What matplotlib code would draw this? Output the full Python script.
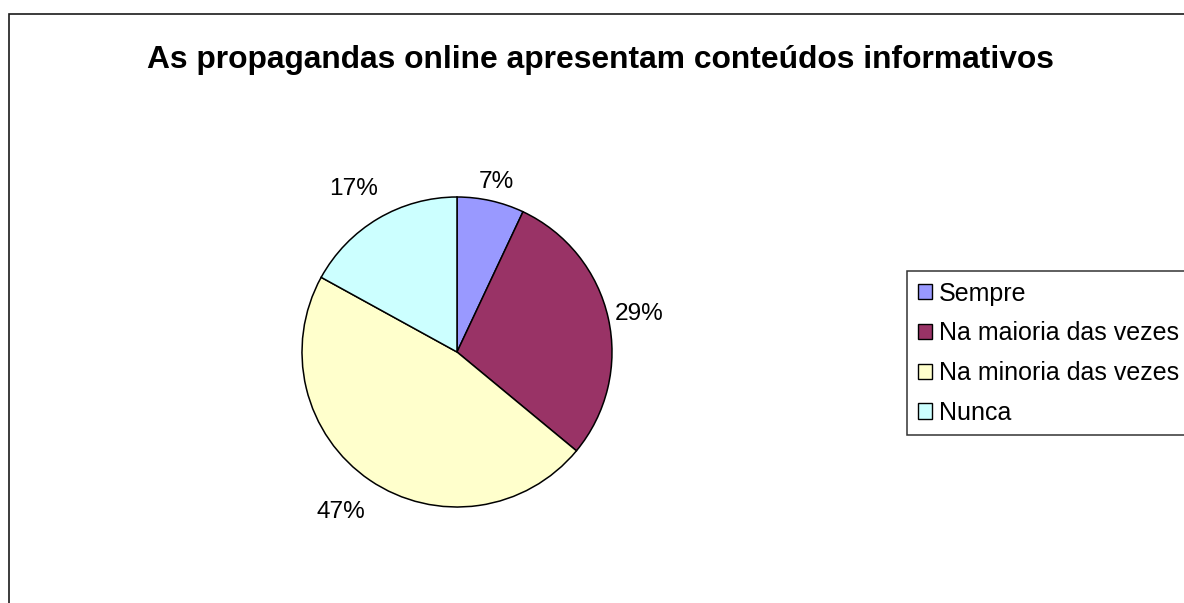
import numpy as np
import matplotlib
matplotlib.use("Agg")
import matplotlib.pyplot as plt
from matplotlib.patches import Rectangle, Patch

plt.rcParams["font.family"] = ["Liberation Sans", "DejaVu Sans"]

# Survey answers
title = "As propagandas online apresentam conteúdos informativos"
categories = ["Sempre", "Na maioria das vezes", "Na minoria das vezes", "Nunca"]
shares = [7, 29, 47, 17]
colors = ["#9999FF", "#993366", "#FFFFCC", "#CCFFFF"]

W, H, DPI = 1184, 603, 100
fig = plt.figure(figsize=(W / DPI, H / DPI), dpi=DPI)
fig.patch.set_facecolor("white")

# Chart-area frame (runs off the right and bottom edges)
fig.patches.append(Rectangle((9 / W, -0.05), 1.1, (H - 14) / H + 0.05,
                             transform=fig.transFigure, fill=False,
                             edgecolor="#1a1a1a", linewidth=1.2))

fig.text(600 / W, 1 - 60 / H, title, ha="center", va="center",
         fontsize=22.9, fontweight="bold")

# Pie plot area
cx, cy, r = 457, 352, 155
ax = fig.add_axes([(cx - r) / W, (H - cy - r) / H, 2 * r / W, 2 * r / H])
wedges, _, autotexts = ax.pie(
    shares, colors=colors, startangle=90, counterclock=False, radius=1,
    autopct="%1.0f%%", pctdistance=1.1,
    wedgeprops=dict(edgecolor="black", linewidth=1.1),
    textprops=dict(fontsize=17.6))
ax.set_xlim(-1, 1)
ax.set_ylim(-1, 1)
ax.set_aspect("equal")
ax.axis("off")

# Push each percentage label out so its box sits just off the rim
label_gap = [1.05, 1.05, 1.18, 1.15]
fig.canvas.draw()
renderer = fig.canvas.get_renderer()
px_per_unit = r
for w, t, g in zip(wedges, autotexts, label_gap):
    theta = np.deg2rad((w.theta1 + w.theta2) / 2)
    bb = t.get_window_extent(renderer)
    hw = bb.width / 2 / px_per_unit
    hh = bb.height / 2 / px_per_unit
    x = g * np.cos(theta) + hw * np.cos(theta)
    y = g * np.sin(theta) + hh * np.sin(theta)
    t.set_position((x, y))
    t.set_ha("center")
    t.set_va("center")
    t.set_clip_on(False)

handles = [Patch(facecolor=c, edgecolor="black", linewidth=1.0) for c in colors]
leg = fig.legend(handles, categories, loc="upper left",
                 bbox_to_anchor=(907 / W, 1 - 271 / H),
                 fontsize=18, frameon=True, fancybox=False,
                 handlelength=0.56, handleheight=0.56, handletextpad=0.3,
                 borderpad=0.42, labelspacing=0.63, borderaxespad=0)
leg.get_frame().set_edgecolor("black")
leg.get_frame().set_linewidth(1.1)

fig.savefig("out.png", dpi=DPI)
